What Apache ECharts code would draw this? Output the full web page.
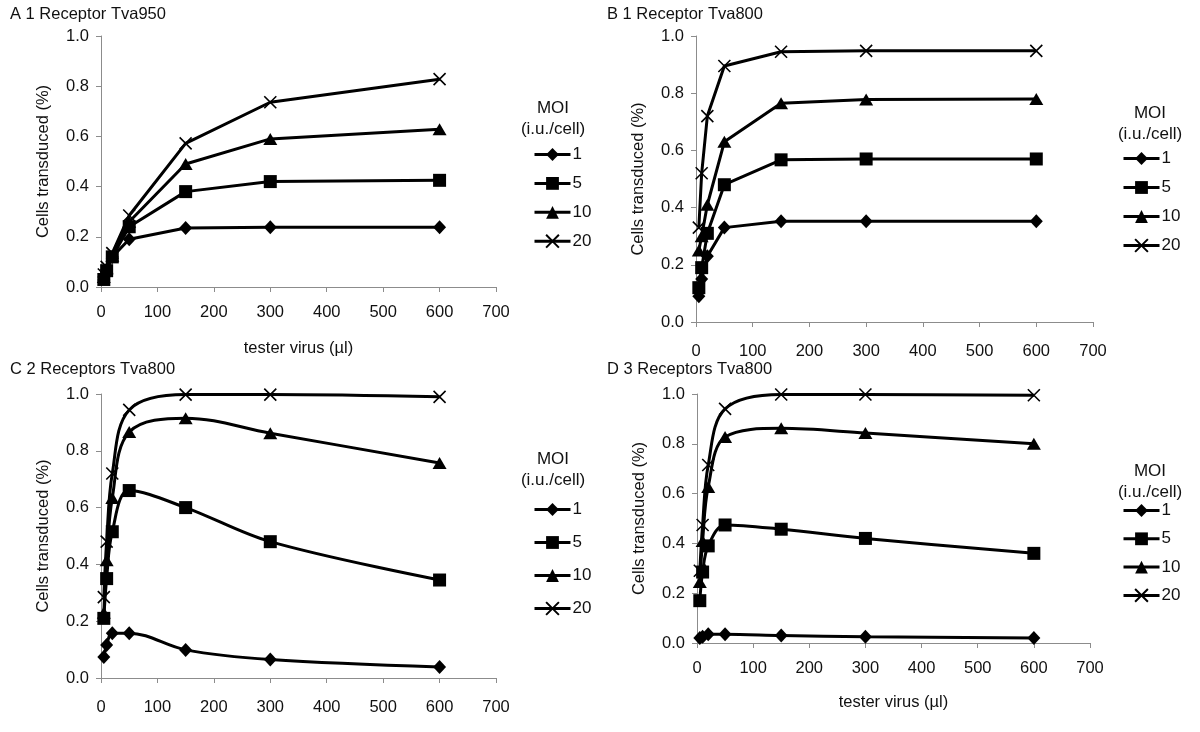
<!DOCTYPE html>
<html><head><meta charset="utf-8">
<script src="https://cdn.jsdelivr.net/npm/echarts@6/dist/echarts.min.js"></script>
<style>html,body{margin:0;padding:0;background:#fff}#c{width:1200px;height:732px}</style>
</head><body><div id="c"></div>
<script>
const xValues = [5, 10, 20, 50, 150, 300, 600];
const moiNames = ['1', '5', '10', '20'];
const xTicks = [0, 100, 200, 300, 400, 500, 600, 700];
const yTicks = [0.0, 0.2, 0.4, 0.6, 0.8, 1.0];
const panelTitles = ['A 1 Receptor Tva950', 'B 1 Receptor Tva800', 'C 2 Receptors Tva800', 'D 3 Receptors Tva800'];

// Panel A
const a_moi1  = [0.04, 0.07, 0.12, 0.19, 0.235, 0.238, 0.238];
const a_moi5  = [0.03, 0.065, 0.12, 0.24, 0.38, 0.42, 0.425];
const a_moi10 = [0.04, 0.075, 0.125, 0.26, 0.49, 0.59, 0.628];
const a_moi20 = [0.05, 0.08, 0.135, 0.285, 0.572, 0.736, 0.828];
// Panel B
const b_moi1  = [0.09, 0.15, 0.23, 0.33, 0.352, 0.352, 0.352];
const b_moi5  = [0.12, 0.19, 0.31, 0.48, 0.567, 0.57, 0.57];
const b_moi10 = [0.25, 0.30, 0.41, 0.63, 0.765, 0.778, 0.78];
const b_moi20 = [0.33, 0.52, 0.72, 0.895, 0.945, 0.948, 0.948];
// Panel C
const c_moi1  = [0.074, 0.116, 0.158, 0.158, 0.099, 0.065, 0.039];
const c_moi5  = [0.21, 0.35, 0.515, 0.66, 0.60, 0.48, 0.345];
const c_moi10 = [0.23, 0.415, 0.634, 0.866, 0.915, 0.862, 0.757];
const c_moi20 = [0.285, 0.48, 0.72, 0.944, 0.998, 0.998, 0.99];
// Panel D
const d_moi1  = [0.02, 0.025, 0.035, 0.035, 0.03, 0.025, 0.02];
const d_moi5  = [0.17, 0.285, 0.39, 0.474, 0.457, 0.42, 0.36];
const d_moi10 = [0.245, 0.41, 0.627, 0.827, 0.862, 0.843, 0.80];
const d_moi20 = [0.29, 0.474, 0.715, 0.94, 0.998, 0.998, 0.995];

const panelData = [
  [a_moi1, a_moi5, a_moi10, a_moi20],
  [b_moi1, b_moi5, b_moi10, b_moi20],
  [c_moi1, c_moi5, c_moi10, c_moi20],
  [d_moi1, d_moi5, d_moi10, d_moi20]
];
const smoothFlags = [false, false, true, true];

const FONT = 'Liberation Sans, Arial, sans-serif';
const FS = 16.5;
const grids = [
  {left: 101, top: 36, width: 395, height: 251},
  {left: 696, top: 36, width: 397, height: 286},
  {left: 101, top: 394, width: 395, height: 284},
  {left: 697, top: 394, width: 393, height: 249}
];
const xLabelMargin = [17, 21, 21, 17];
const xNameShow = [true, false, false, true];
const xNameGap = [53, 0, 0, 51];
const symbols = ['diamond', 'rect', 'triangle', 'path://M0,0L10,10M10,0L0,10'];
const symbolSizes = [[13, 14], 13, [14, 12], 12];

const axisGray = '#8c8c8c';
const xAxes = grids.map((g, i) => ({
  type: 'value', gridIndex: i, min: xTicks[0], max: xTicks[xTicks.length - 1], interval: 100,
  axisLine: {lineStyle: {color: axisGray, width: 1}},
  axisTick: {show: true, length: 5, lineStyle: {color: axisGray}},
  splitLine: {show: false},
  axisLabel: {color: '#111', fontSize: FS, fontFamily: FONT, margin: xLabelMargin[i]},
  name: xNameShow[i] ? 'tester virus (µl)' : '',
  nameLocation: 'middle', nameGap: xNameGap[i],
  nameTextStyle: {color: '#111', fontSize: FS, fontFamily: FONT}
}));
const yAxes = grids.map((g, i) => ({
  type: 'value', gridIndex: i, min: yTicks[0], max: yTicks[yTicks.length - 1], interval: 0.2,
  axisLine: {show: true, lineStyle: {color: axisGray, width: 1}},
  axisTick: {show: true, length: 5, lineStyle: {color: axisGray}},
  splitLine: {show: false},
  axisLabel: {color: '#111', fontSize: FS, fontFamily: FONT, margin: 12, formatter: v => v.toFixed(1)},
  name: 'Cells transduced (%)', nameLocation: 'middle', nameGap: 49, nameRotate: 90,
  nameTextStyle: {color: '#111', fontSize: FS, fontFamily: FONT}
}));

const series = [];
panelData.forEach((arrs, p) => {
  arrs.forEach((arr, s) => {
    series.push({
      type: 'line', name: moiNames[s], xAxisIndex: p, yAxisIndex: p,
      data: xValues.map((x, k) => [x, arr[k]]),
      smooth: smoothFlags[p] ? 0.35 : false,
      symbol: symbols[s], symbolSize: symbolSizes[s], showSymbol: true,
      lineStyle: {color: '#000', width: 3},
      itemStyle: s === 3 ? {color: '#000', borderColor: '#000', borderWidth: 1.6} : {color: '#000', borderWidth: 0},
      emphasis: {disabled: true}, animation: false
    });
  });
});

const legendPos = [
  {left: 533, top: 146, gap: 11.9},
  {left: 1122, top: 150, gap: 12.0},
  {left: 533, top: 501, gap: 16.0},
  {left: 1122, top: 502, gap: 11.3}
];
const legends = legendPos.map(l => ({
  data: moiNames, orient: 'vertical', left: l.left, top: l.top, itemGap: l.gap, padding: 0,
  itemWidth: 36, itemHeight: 16, selectedMode: false,
  lineStyle: {width: 3},
  textStyle: {color: '#111', fontSize: 17, fontFamily: FONT, lineHeight: 16, padding: [0, 0, 0, -3]}
}));

const moiLabelPos = [
  {x: 553, y: 108}, {x: 1150, y: 113}, {x: 553, y: 459}, {x: 1150, y: 471}
];
const titlePos = [{x: 10, y: 6}, {x: 607, y: 6}, {x: 10, y: 361}, {x: 607, y: 361}];
const graphics = [];
titlePos.forEach((t, i) => graphics.push({type: 'text', left: t.x, top: t.y,
  style: {text: panelTitles[i], fill: '#111', font: '16.5px ' + FONT}}));
moiLabelPos.forEach(m => {
  graphics.push({type: 'text', x: m.x, y: m.y, style: {text: 'MOI', fill: '#111', font: '17px ' + FONT, textAlign: 'center', textVerticalAlign: 'middle'}});
  graphics.push({type: 'text', x: m.x, y: m.y + 21, style: {text: '(i.u./cell)', fill: '#111', font: '17px ' + FONT, textAlign: 'center', textVerticalAlign: 'middle'}});
});

const chart = echarts.init(document.getElementById('c'), null, {renderer: 'canvas'});
chart.setOption({
  backgroundColor: '#fff', animation: false,
  grid: grids, xAxis: xAxes, yAxis: yAxes, series: series, legend: legends, graphic: graphics
});
</script></body></html>
